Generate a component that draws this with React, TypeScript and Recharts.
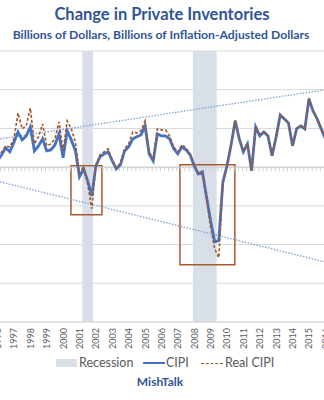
import React from "react";
import { ComposedChart, Line, XAxis, YAxis, CartesianGrid, ReferenceArea, ReferenceLine } from "recharts";

// quarterly values, 1996 Q1 .. 2016 Q1
const firstYear = 1996;
const cipi = [
  8.1, 16.0, 24.9, 19.7,
  32.0, 45.5, 35.2, 40.3,
  51.9, 21.0, 27.5, 36.5,
  21.0, 22.3, 28.7, 42.9,
  12.0, 46.8, 35.2, 21.0,
  -12.5, -2.2, -17.7, -37.0,
  1.7, 13.3, 17.1, 19.7,
  8.0, -2.2, 3.0, 21.0,
  26.2, 36.5, 39.1, 41.6,
  53.2, 17.1, 8.1, 42.9,
  40.3, 40.3, 36.5, 23.6,
  17.1, 26.2, 22.3, 15.9,
  1.7, -8.6, -6.1, -38.3,
  -69.2, -96.3, -95.0, -18.9,
  1.7, 28.7, 59.7, 36.5,
  19.7, 30.0, -4.8, 51.9,
  40.3, 45.5, 40.3, 14.6,
  39.1, 67.4, 62.3, 57.1,
  27.5, 49.4, 53.2, 49.4,
  88.0, 72.6, 62.3, 49.4,
  36.5,
];
const realCipi = [
  13.3, 19.7, 27.5, 26.2,
  36.5, 70.0, 49.4, 53.2,
  76.4, 30.0, 39.1, 55.8,
  27.5, 30.0, 36.5, 58.4,
  21.0, 59.7, 49.4, 32.6,
  -8.6, 0.4, -21.5, -53.8,
  1.7, 15.9, 19.7, 23.6,
  9.4, -0.9, 5.5, 23.6,
  30.0, 45.5, 44.2, 46.8,
  59.7, 19.7, 10.7, 49.4,
  48.1, 48.1, 40.3, 26.2,
  19.7, 28.7, 24.9, 17.1,
  3.0, -8.6, -7.3, -40.9,
  -77.0, -105.3, -116.9, -21.5,
  2.5, 29.5, 60.5, 37.0,
  20.5, 30.5, -4.0, 52.5,
  41.0, 46.0, 41.0, 15.0,
  39.5, 68.0, 63.0, 57.5,
  28.0, 50.0, 54.0, 50.0,
  89.0, 73.0, 63.0, 50.0,
  37.0,
];
const yearTicks = [1996, 1997, 1998, 1999, 2000, 2001, 2002, 2003, 2004, 2005, 2006, 2007, 2008, 2009, 2010, 2011, 2012, 2013, 2014, 2015, 2016];
const valueTicks = [-200, -150, -100, -50, 0, 50, 100, 150];
const recessions = [
  { start: 2001.17, end: 2001.83 },
  { start: 2007.92, end: 2009.37 },
];
const highlightBoxes = [
  { x1: 2000.48, x2: 2002.37, y1: 1.7, y2: -61.5 },
  { x1: 2007.13, x2: 2010.48, y1: 3.0, y2: -126.1 },
];
const trendLines = [
  [{ x: 1996.15, y: 36.5 }, { x: 2015.92, y: 99.6 }],
  [{ x: 1996.15, y: -18.9 }, { x: 2015.92, y: -122.1 }],
];

const data = cipi.map((v, i) => ({
  t: firstYear + i / 4,
  cipi: v,
  real: realCipi[i],
}));

const BLUE = "#4472c4";
const BROWN = "#a3562a";
const TITLE = "#2f5597";
const GREY = "#595959";
const FONT = "Lato, 'Open Sans', sans-serif";

const YearTick = (props: any) => {
  const { x, y, payload } = props;
  return (
    <text
      x={x}
      y={y}
      transform={`rotate(-90, ${x}, ${y})`}
      textAnchor="end"
      dominantBaseline="central"
      fontSize={9}
      fontFamily={FONT}
      fill={GREY}
    >
      {payload.value}
    </text>
  );
};

// zero line with small quarterly tick marks hanging below it
const ZeroAxis = (props: any) => {
  const { x1, y1, x2 } = props;
  return (
    <g>
      <line x1={x1} y1={y1} x2={x2} y2={y1} stroke="#d0d0d0" strokeWidth={1} />
      <line x1={x1} y1={y1 + 2} x2={x2} y2={y1 + 2} stroke="#d0d0d0" strokeWidth={4} strokeDasharray="1 3.1" />
    </g>
  );
};

export default function App() {
  return (
    <div style={{ position: "absolute", left: 0, top: 0, width: 324, height: 400, background: "#fff", fontFamily: FONT }}>
      <div style={{ position: "absolute", top: 4, left: 0, width: 324, textAlign: "center", color: TITLE, fontWeight: 700, fontSize: 16.5 }}>
        Change in Private Inventories
      </div>
      <div style={{ position: "absolute", top: 27, left: 0, width: 322, textAlign: "center", color: TITLE, fontWeight: 700, fontSize: 12.2 }}>
        Billions of Dollars, Billions of Inflation-Adjusted Dollars
      </div>
      <ComposedChart width={324} height={400} data={data} margin={{ top: 51, right: 0, bottom: 48, left: 0 }}>
        {recessions.map((r, i) => (
          <ReferenceArea key={`rec-${i}`} x1={r.start} x2={r.end} fill="#d9dfe8" fillOpacity={1} stroke="none" />
        ))}
        <CartesianGrid vertical={false} stroke="#d9d9d9" />
        <XAxis
          dataKey="t"
          type="number"
          domain={[1996.15, 2015.92]}
          allowDataOverflow
          ticks={yearTicks}
          interval={0}
          tick={<YearTick />}
          tickLine={false}
          tickSize={0}
          tickMargin={6}
          height={30}
          axisLine={{ stroke: "#d9d9d9" }}
        />
        <YAxis hide domain={[-200, 150]} ticks={valueTicks} allowDataOverflow />
        <ReferenceLine y={0} shape={<ZeroAxis />} />
        {trendLines.map((seg, i) => (
          <ReferenceLine
            key={`trend-${i}`}
            segment={seg}
            stroke="#7f9fd8"
            strokeWidth={1.3}
            strokeDasharray="1.5 1.5"
          />
        ))}
        <Line type="linear" dataKey="cipi" stroke={BLUE} strokeWidth={2.8} dot={false} isAnimationActive={false} />
        <Line type="linear" dataKey="real" stroke={BROWN} strokeWidth={1.6} strokeDasharray="3 2" dot={false} isAnimationActive={false} />
        {highlightBoxes.map((b, i) => (
          <ReferenceArea key={`box-${i}`} x1={b.x1} x2={b.x2} y1={b.y1} y2={b.y2} fill="none" stroke="#a65a30" strokeWidth={1.5} />
        ))}
      </ComposedChart>
      <div style={{ position: "absolute", top: 355, left: 0, width: 324, height: 18, fontSize: 12.5, color: GREY }}>
        <div style={{ position: "absolute", left: 56, top: 4, width: 21, height: 8, background: "#d9dfe8" }} />
        <div style={{ position: "absolute", left: 79, top: 0 }}>Recession</div>
        <div style={{ position: "absolute", left: 143, top: 7, width: 22, height: 0, borderTop: `2.5px solid ${BLUE}` }} />
        <div style={{ position: "absolute", left: 166, top: 0 }}>CIPI</div>
        <div style={{ position: "absolute", left: 201, top: 8, width: 22, height: 0, borderTop: `1.5px dashed ${BROWN}` }} />
        <div style={{ position: "absolute", left: 225, top: 0 }}>Real CIPI</div>
      </div>
      <div style={{ position: "absolute", top: 374, left: 0, width: 320, textAlign: "center", color: TITLE, fontWeight: 700, fontSize: 12 }}>
        MishTalk
      </div>
    </div>
  );
}
